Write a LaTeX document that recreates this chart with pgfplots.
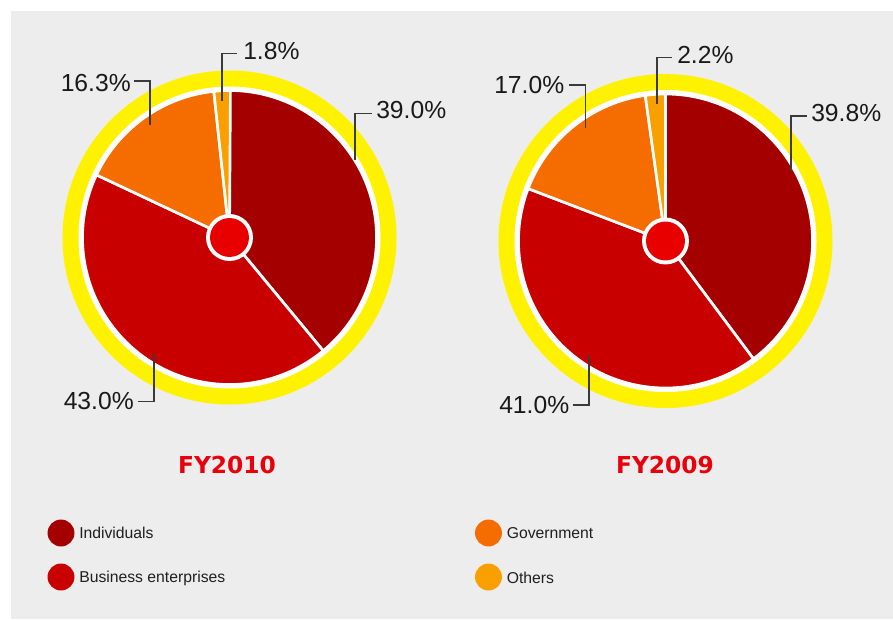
\documentclass[border=0pt]{standalone}
\usepackage{pgfplots}
\pgfplotsset{compat=1.18}
\usepackage{pgfplotstable}
\usepackage{fontspec}
\setmainfont{Liberation Sans}
\newfontfamily\titlefont{DejaVu Sans}
\definecolor{cInd}{HTML}{A50000}
\definecolor{cBus}{HTML}{C80000}
\definecolor{cGov}{HTML}{F56C00}
\definecolor{cOth}{HTML}{F9A000}
\definecolor{ring}{HTML}{FFF200}
\definecolor{hub}{HTML}{E80000}
\definecolor{bg}{HTML}{EDEDED}
\definecolor{titlered}{HTML}{E8000A}
\definecolor{leader}{HTML}{3A3A3A}

\pgfplotstableread{
share color
39.0 cInd
43.0 cBus
16.3 cGov
1.8 cOth
}\tabA
\pgfplotstableread{
share color
39.8 cInd
41.0 cBus
17.0 cGov
2.2 cOth
}\tabB

\newcommand\drawpie[3]{%
  \fill[ring] (axis cs:#2,#3) circle[radius=125.25pt];
  \fill[white] (axis cs:#2,#3) circle[radius=113.25pt];
  \gdef\cumval{0}%
  \pgfplotstablegetrowsof{#1}%
  \pgfmathtruncatemacro\lastrow{\pgfplotsretval-1}%
  \foreach \i in {0,...,\lastrow}{%
    \pgfplotstablegetelem{\i}{share}\of{#1}\let\val\pgfplotsretval
    \pgfplotstablegetelem{\i}{color}\of{#1}\let\col\pgfplotsretval
    \pgfmathsetmacro\sa{90-3.6*\cumval}%
    \pgfmathsetmacro\ea{90-3.6*(\cumval+\val)}%
    \filldraw[fill=\col, draw=white, line width=2pt, line join=round]
      (axis cs:#2,#3) -- ++(\sa:110.25pt) arc[start angle=\sa, end angle=\ea, radius=110.25pt] -- cycle;
    \pgfmathsetmacro\newcum{\cumval+\val}\xdef\cumval{\newcum}%
  }%
}
\newcommand\hub[2]{%
  \fill[white] (axis cs:#1,#2) circle[radius=17.6pt];
  \fill[hub] (axis cs:#1,#2) circle[radius=14.6pt];
}

\tikzset{
  lead/.style={draw=leader, line width=0.8pt},
  lab/.style={anchor=west, inner sep=0pt, font=\fontsize{18.5}{20}\selectfont, text=black!90},
  leg/.style={anchor=west, inner sep=0pt, font=\fontsize{11.8}{14}\selectfont, text=black!88},
  ttl/.style={inner sep=0pt, font=\titlefont\bfseries\fontsize{17.5}{20}\selectfont, text=titlered}
}

\begin{document}
\begin{tikzpicture}
\begin{axis}[
  width=669.75pt, height=464.25pt, scale only axis,
  xmin=0, xmax=893, ymin=0, ymax=619, y dir=reverse,
  enlargelimits=false, hide axis, clip=false,
  at={(0,0)}, anchor=south west]
\pgfplotsextra{%
  \fill[white] (axis cs:0,0) rectangle (axis cs:893,619);
  \fill[bg] (axis cs:11,11) rectangle (axis cs:893,619);
  \drawpie{\tabA}{229.5}{237.5}
  \drawpie{\tabB}{665.5}{241}
  % leaders FY2010
  \draw[lead] (axis cs:355,160) -- (axis cs:355,113.3) -- (axis cs:372,113.3);
  \draw[lead] (axis cs:222,101) -- (axis cs:222,53.3) -- (axis cs:237,53.3);
  \draw[lead] (axis cs:150,125) -- (axis cs:150,81) -- (axis cs:134,81);
  \draw[lead] (axis cs:154,354) -- (axis cs:154,401.7) -- (axis cs:138,401.7);
  % leaders FY2009
  \draw[lead] (axis cs:791,171) -- (axis cs:791,116) -- (axis cs:807,116);
  \draw[lead] (axis cs:657,104) -- (axis cs:657,57.5) -- (axis cs:672,57.5);
  \draw[lead] (axis cs:585.5,128) -- (axis cs:585.5,85) -- (axis cs:569,85);
  \draw[lead] (axis cs:589,356) -- (axis cs:589,405) -- (axis cs:573,405);
  \hub{229.5}{237.5}
  \hub{665.5}{241}
  % labels
  \node[lab] at (axis cs:376,110.5) {39.0\%};
  \node[lab] at (axis cs:243,51) {1.8\%};
  \node[lab] at (axis cs:60.5,82.8) {16.3\%};
  \node[lab] at (axis cs:63.5,401) {43.0\%};
  \node[lab] at (axis cs:811,113.3) {39.8\%};
  \node[lab] at (axis cs:677,55) {2.2\%};
  \node[lab] at (axis cs:494,85.5) {17.0\%};
  \node[lab] at (axis cs:499,405.3) {41.0\%};
  % titles
  \node[ttl] at (axis cs:227,465) {FY2010};
  \node[ttl] at (axis cs:665,465) {FY2009};
  % legend
  \fill[cInd] (axis cs:61,533) circle[radius=10.1pt];
  \fill[cBus] (axis cs:61,577) circle[radius=10.1pt];
  \fill[cGov] (axis cs:488.5,533) circle[radius=10.1pt];
  \fill[cOth] (axis cs:488.5,577) circle[radius=10.1pt];
  \node[leg] at (axis cs:79,533) {Individuals};
  \node[leg] at (axis cs:79,578) {Business enterprises};
  \node[leg] at (axis cs:506.5,533) {Government};
  \node[leg] at (axis cs:506.5,578) {Others};
}
\end{axis}
\end{tikzpicture}
\end{document}
